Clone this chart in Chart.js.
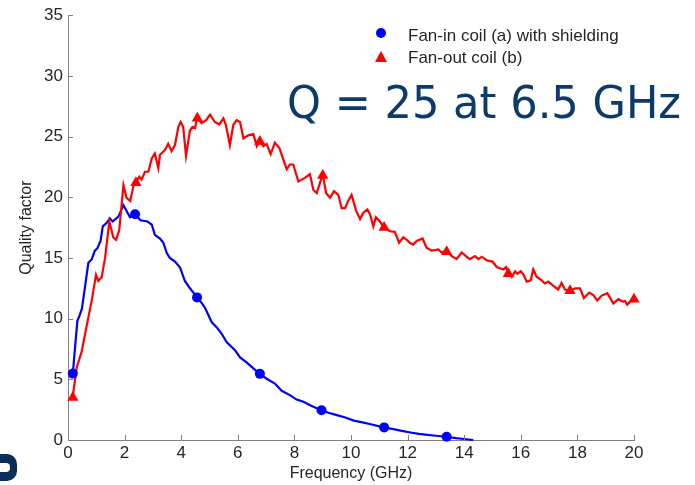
<!DOCTYPE html>
<html>
<head>
<meta charset="utf-8">
<script src="https://cdn.jsdelivr.net/npm/chart.js@4"></script>
<style>
  body { margin: 0; background: #fff; }
  #wrap { width: 695px; height: 485px; }
</style>
</head>
<body>
<div id="wrap"><canvas id="qChart" width="695" height="485"></canvas></div>
<script>
// Fan-in coil (a) with shielding - blue
const fanInX = [0.17, 0.25, 0.33, 0.4, 0.49, 0.6, 0.72, 0.84, 0.95, 1.04, 1.15, 1.23, 1.37, 1.48, 1.58, 1.78, 1.96, 2.19, 2.37, 2.56, 2.81, 2.96, 3.07, 3.25, 3.37, 3.49, 3.6, 3.78, 3.96, 4.13, 4.31, 4.56, 4.72, 4.84, 5.08, 5.25, 5.43, 5.61, 5.9, 6.08, 6.31, 6.55, 6.78, 7.02, 7.31, 7.55, 7.84, 8.08, 8.32, 8.61, 8.96, 9.2, 9.5, 9.8, 10.1, 10.4, 10.7, 11.0, 11.17, 11.5, 11.8, 12.1, 12.4, 12.7, 13.0, 13.38, 13.7, 14.0, 14.32];
const fanInQ = [5.47, 7.65, 9.8, 10.2, 10.8, 12.6, 14.6, 14.9, 15.6, 15.8, 16.4, 17.6, 17.9, 18.25, 18.0, 18.4, 19.35, 18.35, 18.6, 18.1, 18.0, 17.75, 16.9, 16.6, 16.25, 15.4, 15.0, 14.7, 14.2, 13.1, 12.5, 11.75, 11.3, 10.9, 9.7, 9.3, 8.75, 8.05, 7.4, 6.8, 6.4, 5.9, 5.45, 5.05, 4.65, 4.05, 3.7, 3.33, 3.15, 2.8, 2.45, 2.25, 2.05, 1.85, 1.6, 1.45, 1.3, 1.12, 1.04, 0.9, 0.75, 0.62, 0.5, 0.42, 0.35, 0.27, 0.15, 0.08, 0];
const fanInMarkX = [0.17, 2.37, 4.56, 6.78, 8.96, 11.17, 13.38];
const fanInMarkQ = [5.47, 18.6, 11.75, 5.45, 2.45, 1.04, 0.27];

// Fan-out coil (b) - red
const fanOutX = [0.17, 0.31, 0.48, 0.66, 0.84, 0.99, 1.07, 1.19, 1.31, 1.46, 1.6, 1.7, 1.81, 1.96, 2.07, 2.2, 2.31, 2.4, 2.52, 2.6, 2.72, 2.84, 2.96, 3.07, 3.19, 3.25, 3.43, 3.54, 3.66, 3.78, 3.9, 3.98, 4.07, 4.17, 4.31, 4.4, 4.49, 4.57, 4.72, 4.88, 5.02, 5.19, 5.35, 5.49, 5.58, 5.72, 5.84, 5.96, 6.08, 6.2, 6.37, 6.55, 6.67, 6.78, 6.9, 7.02, 7.16, 7.31, 7.47, 7.61, 7.73, 7.84, 7.96, 8.14, 8.26, 8.37, 8.55, 8.67, 8.79, 9.0, 9.12, 9.26, 9.4, 9.55, 9.67, 9.79, 9.9, 10.02, 10.18, 10.32, 10.43, 10.58, 10.67, 10.79, 10.88, 11.02, 11.17, 11.38, 11.55, 11.7, 11.85, 11.97, 12.08, 12.2, 12.32, 12.53, 12.67, 12.85, 13.09, 13.2, 13.38, 13.56, 13.73, 13.91, 14.06, 14.2, 14.38, 14.5, 14.62, 14.8, 15.0, 15.15, 15.38, 15.48, 15.56, 15.68, 15.8, 15.88, 16.0, 16.09, 16.21, 16.35, 16.44, 16.56, 16.74, 16.85, 16.97, 17.15, 17.32, 17.44, 17.56, 17.74, 17.92, 18.09, 18.23, 18.42, 18.56, 18.7, 18.86, 19.06, 19.27, 19.45, 19.6, 19.68, 19.76, 19.86, 20.0];
const fanOutQ = [3.6, 6.0, 7.25, 9.4, 11.5, 13.6, 13.1, 13.4, 15.0, 18.0, 16.7, 16.5, 17.3, 21.0, 19.95, 19.7, 20.9, 21.25, 21.7, 21.45, 22.1, 22.1, 23.2, 23.6, 22.4, 23.5, 23.9, 24.4, 23.8, 24.3, 25.8, 26.2, 25.8, 23.4, 25.5, 25.8, 25.7, 26.6, 26.1, 26.35, 26.8, 26.2, 26.0, 26.5, 25.95, 24.3, 25.95, 26.35, 26.2, 24.85, 25.1, 25.2, 24.2, 24.65, 24.2, 24.4, 23.55, 24.5, 24.05, 23.1, 22.3, 22.7, 22.7, 21.3, 21.45, 21.6, 21.9, 20.6, 20.35, 21.9, 20.35, 19.95, 20.5, 20.2, 19.1, 19.1, 19.7, 20.2, 18.9, 18.2, 18.7, 19.0, 18.6, 17.6, 18.35, 18.0, 17.5, 17.2, 17.15, 16.25, 16.7, 16.5, 16.25, 16.1, 16.4, 16.6, 15.85, 15.6, 15.7, 15.45, 15.6, 15.15, 14.9, 15.45, 15.15, 14.9, 15.15, 14.9, 15.1, 14.8, 14.7, 14.25, 14.05, 14.25, 13.8, 13.45, 13.9, 13.7, 13.9, 13.65, 13.05, 13.15, 14.05, 13.45, 13.15, 12.9, 13.05, 12.7, 12.4, 12.95, 12.4, 12.3, 12.5, 12.5, 11.7, 12.15, 11.95, 11.5, 11.9, 12.1, 11.25, 11.6, 11.4, 11.45, 11.15, 11.4, 11.6];
const fanOutMarkX = [0.17, 2.4, 4.57, 6.78, 9.0, 11.17, 13.38, 15.56, 17.74, 20.0];
const fanOutMarkQ = [3.5, 21.2, 26.5, 24.6, 21.8, 17.5, 15.5, 13.7, 12.3, 11.6];

const seriesLabels = ["Fan-in coil (a) with shielding", "Fan-out coil (b)"];
const xTitle = "Frequency (GHz)";
const yTitle = "Quality factor";
const noteText = "Q = 25 at 6.5 GHz";

const toPts = (xs, ys) => xs.map((x, i) => ({ x: x, y: ys[i] }));

const axisGrey = "#808080";
const labelColor = "#262626";

// inward tick marks, legend in the corner, the big note and the logo scrap
const extrasPlugin = {
  id: "extras",
  afterDraw(chart) {
    const ctx = chart.ctx;
    const xs = chart.scales.x;
    const ys = chart.scales.y;
    const area = chart.chartArea;
    ctx.save();

    ctx.strokeStyle = axisGrey;
    ctx.lineWidth = 1;
    ctx.beginPath();
    xs.ticks.forEach((t) => {
      const px = Math.round(xs.getPixelForValue(t.value)) + 0.5;
      ctx.moveTo(px, area.bottom);
      ctx.lineTo(px, area.bottom - 5);
    });
    ys.ticks.forEach((t) => {
      const py = Math.round(ys.getPixelForValue(t.value)) + 0.5;
      ctx.moveTo(area.left, py);
      ctx.lineTo(area.left + 5, py);
    });
    ctx.stroke();

    // legend
    ctx.fillStyle = "#0000ff";
    ctx.beginPath();
    ctx.arc(381, 33, 5, 0, Math.PI * 2);
    ctx.fill();
    ctx.fillStyle = "#ff0000";
    ctx.beginPath();
    ctx.moveTo(381, 51);
    ctx.lineTo(387, 62);
    ctx.lineTo(375, 62);
    ctx.closePath();
    ctx.fill();
    ctx.fillStyle = labelColor;
    ctx.font = "17px 'Liberation Sans', Arial, sans-serif";
    ctx.textBaseline = "alphabetic";
    ctx.textAlign = "left";
    ctx.fillText(seriesLabels[0], 408, 41);
    ctx.fillText(seriesLabels[1], 408, 63);

    // annotation, squeezed to the width it has in the slide
    ctx.fillStyle = "#0b3a6b";
    ctx.font = "45px 'DejaVu Sans', sans-serif";
    const w = ctx.measureText(noteText).width;
    ctx.save();
    ctx.translate(287, 118);
    ctx.scale(394 / w, 1);
    ctx.fillText(noteText, 0, 0);
    ctx.restore();

    // cut-off logo bottom-left
    ctx.fillStyle = "#0b2d57";
    ctx.beginPath();
    ctx.roundRect(-12, 454, 29, 27, [0, 10, 10, 0]);
    ctx.fill();
    ctx.fillStyle = "#ffffff";
    ctx.beginPath();
    ctx.roundRect(-12, 463, 22, 9, [0, 4, 4, 0]);
    ctx.fill();

    ctx.restore();
  },
};

new Chart(document.getElementById("qChart"), {
  type: "scatter",
  data: {
    datasets: [
      {
        label: seriesLabels[1] + " markers",
        data: toPts(fanOutMarkX, fanOutMarkQ),
        showLine: false,
        pointStyle: "triangle",
        pointRadius: 6.5,
        backgroundColor: "#ff0000",
        borderColor: "#ff0000",
        borderWidth: 0,
        clip: false,
      },
      {
        label: seriesLabels[0] + " markers",
        data: toPts(fanInMarkX, fanInMarkQ),
        showLine: false,
        pointStyle: "circle",
        pointRadius: 5,
        backgroundColor: "#0000ff",
        borderColor: "#0000ff",
        borderWidth: 0,
        clip: false,
      },
      {
        label: seriesLabels[1],
        data: toPts(fanOutX, fanOutQ),
        showLine: true,
        pointRadius: 0,
        borderColor: "#ff0000",
        borderWidth: 2.2,
        tension: 0,
        clip: false,
      },
      {
        label: seriesLabels[0],
        data: toPts(fanInX, fanInQ),
        showLine: true,
        pointRadius: 0,
        borderColor: "#0000ff",
        borderWidth: 2.2,
        tension: 0,
        clip: false,
      },
    ],
  },
  options: {
    responsive: false,
    animation: false,
    layout: { padding: { left: 0, right: 61, top: 13, bottom: 0 } },
    plugins: {
      legend: { display: false },
      tooltip: { enabled: false },
    },
    scales: {
      x: {
        type: "linear",
        min: 0,
        max: 20,
        grid: { display: false, drawTicks: false },
        border: { display: true, color: axisGrey, width: 1 },
        ticks: {
          stepSize: 2,
          autoSkip: false,
          maxRotation: 0,
          padding: 3,
          color: labelColor,
          font: { family: "'Liberation Sans', Arial, sans-serif", size: 17 },
        },
        title: {
          display: true,
          text: xTitle,
          color: labelColor,
          padding: { top: 0, bottom: 2 },
          font: { family: "'Liberation Sans', Arial, sans-serif", size: 16 },
        },
        afterFit(scale) { scale.height = 45; },
      },
      y: {
        type: "linear",
        min: 0,
        max: 35,
        grid: { display: false, drawTicks: false },
        border: { display: true, color: axisGrey, width: 1 },
        ticks: {
          stepSize: 5,
          autoSkip: false,
          padding: 5,
          color: labelColor,
          font: { family: "'Liberation Sans', Arial, sans-serif", size: 17 },
        },
        title: {
          display: true,
          text: yTitle,
          color: labelColor,
          padding: { top: 17, bottom: 0 },
          font: { family: "'Liberation Sans', Arial, sans-serif", size: 16 },
        },
        afterFit(scale) { scale.width = 68; },
      },
    },
  },
  plugins: [extrasPlugin],
});
</script>
</body>
</html>
